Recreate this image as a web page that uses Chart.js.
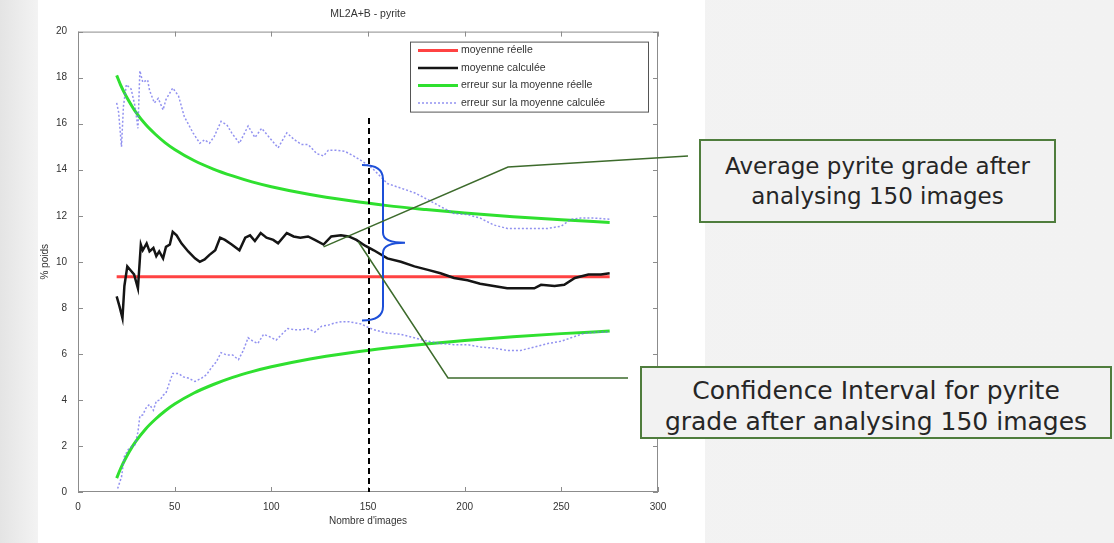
<!DOCTYPE html>
<html lang="fr">
<head>
  <meta charset="UTF-8">
  <title>ML2A+B - pyrite</title>
  <script src="https://cdn.jsdelivr.net/npm/chart.js"></script>
  <style>
    body { margin: 0; width: 1114px; height: 543px; overflow: hidden; position: relative;
           background: linear-gradient(90deg, #e4e4e4 0, #f3f3f3 38px, #f2f2f2 100%); }
    .panel { position: absolute; left: 38px; top: 0; width: 667px; height: 543px; background: #fff; }
    #chart { position: absolute; left: 0; top: 0; }
    .callout { position: absolute; box-sizing: border-box; background: #f2f2f2; border: 2px solid #4f7d3d;
               color: #262626; font-family: 'DejaVu Sans', sans-serif; text-align: center;
               display: flex; align-items: center; justify-content: center; }
    #c1 { left: 699px; top: 139px; width: 357px; height: 84px; font-size: 23px; line-height: 30px; }
    #c2 { left: 640px; top: 366px; width: 472px; height: 73px; font-size: 25px; line-height: 31px; padding-top: 6px; }
  </style>
</head>
<body>
  <div class="panel"></div>
  <canvas id="chart" width="1114" height="543"></canvas>
  <div class="callout" id="c1">Average pyrite grade after<br>analysing 150 images</div>
  <div class="callout" id="c2">Confidence Interval for pyrite<br>grade after analysing 150 images</div>

  <script>
    // values (x = nombre d'images, y = % poids)
    const redN = [20, 275];
    const redV = [9.35, 9.35];

    const blackN = [20, 21.5, 23, 24, 25.5, 27.5, 29, 31, 32.5, 33.5, 35.5, 37, 39, 40.5, 42, 44, 45.5, 47.5, 49, 51,
      53.5, 57, 60.5, 63, 65.5, 68, 71, 73.5, 76, 79.5, 83.5, 86.5, 89, 91.5, 94.5, 97.5, 101, 103.5, 108, 111.5,
      115, 119, 122.5, 127, 131, 136, 140, 144, 148.5, 153, 160, 167, 174, 181, 187.5, 194.5, 201.5, 208, 215, 222,
      229, 236, 239.5, 246.5, 251.5, 257, 264, 270.5, 275];
    const blackV = [8.5, 8.05, 7.55, 8.95, 9.8, 9.6, 9.45, 8.85, 10.75, 10.5, 10.8, 10.45, 10.6, 10.25, 10.45, 10.15, 10.65, 10.75, 11.3, 11.15,
      10.8, 10.45, 10.15, 10.0, 10.1, 10.3, 10.5, 11.05, 10.95, 10.75, 10.5, 11.05, 11.15, 10.9, 11.25, 11.05, 10.95, 10.8, 11.25, 11.1,
      11.05, 11.1, 10.95, 10.75, 11.1, 11.15, 11.1, 10.95, 10.7, 10.5, 10.15, 10.0, 9.8, 9.65, 9.5, 9.3, 9.2, 9.05, 8.95, 8.85,
      8.85, 8.85, 9.0, 8.95, 9.0, 9.3, 9.45, 9.45, 9.5];

    const greenN = [20, 22, 25, 28, 30, 35, 40, 45, 50, 60, 70, 80, 90, 100, 120, 140, 160, 180, 200, 225, 250, 275];
    const greenUpV = [18.1, 17.69, 17.18, 16.75, 16.49, 15.96, 15.54, 15.18, 14.88, 14.4, 14.03, 13.73, 13.47, 13.26,
      12.92, 12.66, 12.44, 12.27, 12.12, 11.96, 11.83, 11.71];
    const greenLowV = [0.6, 1.01, 1.52, 1.96, 2.21, 2.74, 3.16, 3.52, 3.82, 4.3, 4.67, 4.98, 5.23, 5.44,
      5.78, 6.04, 6.26, 6.43, 6.58, 6.74, 6.88, 6.99];

    const blueUpN = [20, 21, 22.5, 23.5, 25, 27.5, 29.5, 31, 32, 33.5, 36, 37, 39.5, 41.5, 44, 45.5, 49, 52, 55, 59.5,
      63, 65.5, 68, 70.5, 74, 77, 79.5, 83.5, 88, 91.5, 95, 99, 103.5, 108, 112, 115.5, 119, 123.5, 127, 129.5,
      133.5, 138, 142.5, 146.5, 150, 153, 160, 167, 174, 181, 187.5, 194.5, 201.5, 208, 215, 222, 229, 236, 243, 250,
      255, 260, 267, 275];
    const blueUpV = [16.9, 16.5, 15.0, 16.75, 17.7, 17.5, 16.75, 15.8, 18.3, 17.8, 17.9, 17.45, 16.9, 17.1, 16.6, 17.05, 17.55, 17.2, 16.3, 15.6,
      15.15, 15.3, 15.15, 15.45, 16.1, 15.95, 15.6, 15.15, 15.9, 15.4, 15.8, 15.4, 14.95, 15.6, 15.3, 15.1, 15.1, 14.7, 14.6, 14.85,
      14.85, 14.8, 14.6, 14.4, 14.2, 14.0, 13.4, 13.2, 13.0, 12.7, 12.4, 12.1, 12.05, 11.9, 11.6, 11.45, 11.45, 11.45, 11.45, 11.55,
      11.85, 11.9, 11.9, 11.85];

    const blueLowN = [20.5, 22.5, 24, 26, 27.5, 29.5, 31, 32, 33.5, 35.5, 37, 39, 40.5, 42.5, 44, 45.5, 47.5, 49, 52, 54.5,
      57, 60.5, 64, 66.5, 69, 71.5, 74, 77, 80, 83, 85.5, 88, 90.5, 93, 96, 99, 102.5, 106, 108.5, 112,
      115.5, 119, 122.5, 126, 129.5, 133, 136.5, 140, 143, 146.5, 150, 153, 160, 167, 174, 181, 187.5, 194.5, 201.5, 208,
      215, 222, 229, 236, 243, 250, 255, 262, 269, 275];
    const blueLowV = [0.15, 0.65, 1.55, 1.85, 1.95, 2.05, 2.6, 3.3, 3.35, 3.7, 3.8, 3.55, 3.95, 4.0, 4.2, 4.3, 4.8, 5.15, 5.15, 5.0,
      4.95, 4.8, 4.95, 5.1, 5.4, 5.65, 6.05, 5.95, 5.95, 5.75, 6.15, 6.7, 6.55, 6.45, 6.85, 6.75, 6.6, 6.9, 7.1, 7.05,
      7.05, 7.1, 6.95, 7.2, 7.25, 7.35, 7.4, 7.4, 7.35, 7.3, 7.15, 7.05, 6.9, 6.85, 6.7, 6.55, 6.45, 6.4, 6.4, 6.3,
      6.25, 6.15, 6.15, 6.3, 6.45, 6.55, 6.7, 6.9, 6.95, 6.95];

    const legendLabels = ['moyenne réelle', 'moyenne calculée', 'erreur sur la moyenne réelle', 'erreur sur la moyenne calculée'];
    const xTicks = [0, 50, 100, 150, 200, 250, 300];
    const yTicks = [0, 2, 4, 6, 8, 10, 12, 14, 16, 18, 20];

    // annotation anchors (data space)
    const markN = 150;          // dashed line
    const markTop = 16.25;
    const braceTop = 14.2, braceBottom = 7.45;
    const avgAnchor = [127, 10.65];
    const ciAnchor = [145, 10.87];

    const pts = (xs, ys) => xs.map((x, i) => ({ x: x, y: ys[i] }));

    const RED = 'rgba(255,45,45,0.9)';
    const BLACK = '#151515';
    const GREEN = '#2fe02f';
    const BLUE = 'rgba(110,110,235,0.75)';
    const CONNECTOR = '#3d6b2c';

    const decor = {
      id: 'decor',
      beforeDatasetsDraw(chart) {
        const { ctx, chartArea: a, scales: { x, y } } = chart;
        ctx.save();
        ctx.strokeStyle = '#8c8c8c';
        ctx.lineWidth = 1;
        ctx.strokeRect(a.left + 0.5, a.top + 0.5, a.right - a.left - 1, a.bottom - a.top - 1);
        ctx.beginPath();
        xTicks.forEach(t => {
          const px = Math.round(x.getPixelForValue(t)) + 0.5;
          ctx.moveTo(px, a.bottom); ctx.lineTo(px, a.bottom - 5);
          ctx.moveTo(px, a.top); ctx.lineTo(px, a.top + 5);
        });
        yTicks.forEach(t => {
          const py = Math.round(y.getPixelForValue(t)) + 0.5;
          ctx.moveTo(a.left, py); ctx.lineTo(a.left + 5, py);
          ctx.moveTo(a.right, py); ctx.lineTo(a.right - 5, py);
        });
        ctx.stroke();
        ctx.restore();
      },
      afterDatasetsDraw(chart) {
        const { ctx, chartArea: a, scales: { x, y } } = chart;
        ctx.save();

        // legend box inside the axes
        const lw = 238, lh = 70;
        const lx = a.right - 10 - lw, ly = a.top + 10;
        ctx.fillStyle = '#fff';
        ctx.fillRect(lx, ly, lw, lh);
        ctx.strokeStyle = '#555';
        ctx.lineWidth = 1;
        ctx.strokeRect(lx + 0.5, ly + 0.5, lw, lh);
        const styleIdx = [0, 1, 2, 4];
        ctx.font = "10.5px 'Liberation Sans', Arial, sans-serif";
        ctx.textBaseline = 'middle';
        legendLabels.forEach((txt, i) => {
          const ds = chart.data.datasets[styleIdx[i]];
          const ry = ly + 9 + i * 17.5;
          ctx.strokeStyle = ds.borderColor;
          ctx.lineWidth = ds.borderWidth;
          ctx.setLineDash(ds.borderDash || []);
          ctx.beginPath(); ctx.moveTo(lx + 8, ry); ctx.lineTo(lx + 48, ry); ctx.stroke();
          ctx.setLineDash([]);
          ctx.fillStyle = '#333';
          ctx.fillText(txt, lx + 51, ry);
        });

        // dashed marker at 150 images
        const mx = x.getPixelForValue(markN) + 1;
        ctx.strokeStyle = '#000';
        ctx.lineWidth = 2;
        ctx.setLineDash([6, 4]);
        ctx.beginPath(); ctx.moveTo(mx, y.getPixelForValue(markTop)); ctx.lineTo(mx, a.bottom); ctx.stroke();
        ctx.setLineDash([]);

        // curly brace
        const bt = y.getPixelForValue(braceTop), bb = y.getPixelForValue(braceBottom);
        const bm = (bt + bb) / 2;
        const x0 = mx - 7, x1 = mx + 14, tip = mx + 36;
        ctx.strokeStyle = '#1c4fd8';
        ctx.lineWidth = 2;
        ctx.beginPath();
        ctx.moveTo(x0, bt);
        ctx.quadraticCurveTo(x1, bt, x1, bt + 14);
        ctx.lineTo(x1, bm - 10);
        ctx.quadraticCurveTo(x1, bm, tip, bm);
        ctx.moveTo(tip, bm);
        ctx.quadraticCurveTo(x1, bm, x1, bm + 10);
        ctx.lineTo(x1, bb - 14);
        ctx.quadraticCurveTo(x1, bb, x0, bb);
        ctx.stroke();

        // callout connectors
        ctx.strokeStyle = CONNECTOR;
        ctx.lineWidth = 1.5;
        ctx.beginPath();
        ctx.moveTo(x.getPixelForValue(avgAnchor[0]), y.getPixelForValue(avgAnchor[1]));
        ctx.lineTo(508, 167);
        ctx.lineTo(688, 156);
        ctx.moveTo(x.getPixelForValue(ciAnchor[0]), y.getPixelForValue(ciAnchor[1]));
        ctx.lineTo(448, 378);
        ctx.lineTo(628, 378);
        ctx.stroke();
        ctx.restore();
      }
    };

    Chart.defaults.font.family = "'Liberation Sans', Arial, sans-serif";
    Chart.defaults.font.size = 10;
    Chart.defaults.color = '#333';

    new Chart(document.getElementById('chart'), {
      type: 'line',
      data: {
        datasets: [
          { label: legendLabels[0], data: pts(redN, redV), borderColor: RED, borderWidth: 3, order: 4 },
          { label: legendLabels[1], data: pts(blackN, blackV), borderColor: BLACK, borderWidth: 2.5, order: 3 },
          { label: legendLabels[2], data: pts(greenN, greenUpV), borderColor: GREEN, borderWidth: 3, cubicInterpolationMode: 'monotone', order: 2 },
          { label: legendLabels[2], data: pts(greenN, greenLowV), borderColor: GREEN, borderWidth: 3, cubicInterpolationMode: 'monotone', order: 2 },
          { label: legendLabels[3], data: pts(blueUpN, blueUpV), borderColor: BLUE, borderWidth: 1.5, borderDash: [2, 2], order: 1 },
          { label: legendLabels[3], data: pts(blueLowN, blueLowV), borderColor: BLUE, borderWidth: 1.5, borderDash: [2, 2], order: 1 }
        ]
      },
      options: {
        responsive: false,
        animation: false,
        elements: { point: { radius: 0 }, line: { tension: 0, fill: false } },
        layout: { padding: { left: 30, right: 456, top: 0, bottom: 0 } },
        plugins: {
          legend: { display: false },
          tooltip: { enabled: false },
          title: { display: true, text: 'ML2A+B - pyrite', fullSize: false, color: '#333',
                   font: { size: 10.5, weight: 'normal' }, padding: { top: 8, bottom: 11 } }
        },
        scales: {
          x: {
            type: 'linear', min: 0, max: 300,
            afterBuildTicks: s => { s.ticks = xTicks.map(v => ({ value: v })); },
            grid: { display: false },
            border: { display: false },
            ticks: { padding: 1, maxRotation: 0 },
            title: { display: true, text: "Nombre d'images", padding: { top: 0, bottom: 16 } },
            afterFit: s => { s.height = 51; }
          },
          y: {
            min: 0, max: 20,
            afterBuildTicks: s => { s.ticks = yTicks.map(v => ({ value: v })); },
            grid: { display: false },
            border: { display: false },
            ticks: { padding: 3 },
            title: { display: true, text: '% poids', padding: { top: 9, bottom: 0 } },
            afterFit: s => { s.width = 48; }
          }
        }
      },
      plugins: [decor]
    });
  </script>
</body>
</html>
